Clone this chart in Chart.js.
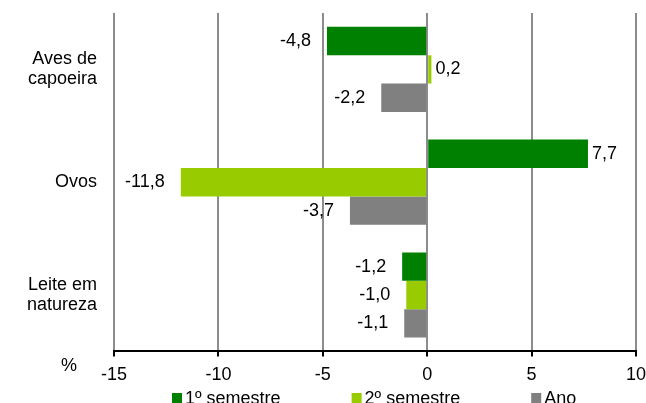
<!DOCTYPE html>
<html>
<head>
<meta charset="utf-8">
<script src="https://cdn.jsdelivr.net/npm/chart.js@4.4.1/dist/chart.umd.min.js"></script>
<style>
    html, body { margin: 0; padding: 0; background: #fff; }
    #wrap { width: 646px; height: 403px; }
</style>
</head>
<body>
<div id="wrap"><canvas id="chartBoxCanvas" width="646" height="403"></canvas></div>
<script>
'use strict';

// Data
const categories = [['Aves de', 'capoeira'], 'Ovos', ['Leite em', 'natureza']];
const seriesNames = ['1º semestre', '2º semestre', 'Ano'];
const firstHalf = [-4.8, 7.7, -1.2];
const secondHalf = [0.2, -11.8, -1.0];
const wholeYear = [-2.2, -3.7, -1.1];
const xTicks = [-15, -10, -5, 0, 5, 10];
const unitLabel = '%';

const FONT = '"Liberation Sans", Arial, sans-serif';
const colors = ['#008000', '#99cc00', '#808080'];

function fmt(v){
    return v.toFixed(1).replace('.', ',');
}

// value labels next to the bar ends
const barLabels = {
    id: 'barLabels',
    afterDatasetsDraw(chart){
        const ctx = chart.ctx;
        ctx.save();
        ctx.font = '18px ' + FONT;
        ctx.fillStyle = '#000';
        ctx.textBaseline = 'middle';
        chart.data.datasets.forEach((ds, i) => {
            const meta = chart.getDatasetMeta(i);
            meta.data.forEach((bar, j) => {
                const v = ds.data[j];
                if(v < 0){
                    ctx.textAlign = 'right';
                    ctx.fillText(fmt(v), bar.x - 16, bar.y);
                }
                else{
                    ctx.textAlign = 'left';
                    ctx.fillText(fmt(v), bar.x + 4, bar.y);
                }
            });
        });
        ctx.restore();
    }
};

// legend row at the bottom + the "%" unit label
const bottomLegend = {
    id: 'bottomLegend',
    afterDraw(chart){
        const ctx = chart.ctx;
        ctx.save();
        ctx.font = '18px ' + FONT;
        ctx.fillStyle = '#000';
        ctx.textAlign = 'center';
        ctx.textBaseline = 'middle';
        ctx.fillText(unitLabel, 69, 366);

        ctx.textAlign = 'left';
        ctx.textBaseline = 'alphabetic';
        let x = 172;
        chart.data.datasets.forEach((ds) => {
            ctx.fillStyle = ds.backgroundColor;
            ctx.fillRect(x, 393, 10, 10);
            ctx.fillStyle = '#000';
            ctx.fillText(ds.label, x + 13, 404);
            x += 13 + ctx.measureText(ds.label).width + 71;
        });
        ctx.restore();
    }
};

const ctx = document.getElementById('chartBoxCanvas').getContext('2d');
window.myChart = new Chart(ctx, {
    type: 'bar',
    data: {
        labels: categories,
        datasets: [
            { label: seriesNames[0], data: firstHalf, backgroundColor: colors[0] },
            { label: seriesNames[1], data: secondHalf, backgroundColor: colors[1] },
            { label: seriesNames[2], data: wholeYear, backgroundColor: colors[2] }
        ]
    },
    options: {
        indexAxis: 'y',
        responsive: false,
        animation: false,
        datasets: {
            bar: { categoryPercentage: 0.755, barPercentage: 1.0, borderWidth: 0 }
        },
        layout: { padding: { top: 13, bottom: 9, left: 0, right: 10 } },
        plugins: {
            legend: { display: false },
            tooltip: { enabled: false }
        },
        scales: {
            x: {
                min: xTicks[0],
                max: xTicks[xTicks.length - 1],
                afterBuildTicks: (scale) => { scale.ticks = xTicks.map(v => ({ value: v })); },
                afterFit: (scale) => { scale.paddingLeft = 0; scale.paddingRight = 0; },
                ticks: {
                    font: { family: FONT, size: 18 },
                    color: '#000',
                    padding: 8,
                    maxRotation: 0,
                    callback: (v) => String(v)
                },
                grid: {
                    color: '#8c8c8c',
                    lineWidth: 2,
                    tickColor: '#000',
                    tickWidth: 2,
                    tickLength: 5
                },
                border: { color: '#000', width: 2 }
            },
            y: {
                afterFit: (scale) => {
                    scale.width = 114;
                    scale.paddingTop = 0;
                    scale.paddingBottom = 0;
                },
                ticks: {
                    font: { family: FONT, size: 18, lineHeight: 1.1 },
                    color: '#000',
                    padding: 17
                },
                grid: { display: false, drawTicks: false },
                border: { display: false }
            }
        }
    },
    plugins: [barLabels, bottomLegend]
});
</script>
</body>
</html>
